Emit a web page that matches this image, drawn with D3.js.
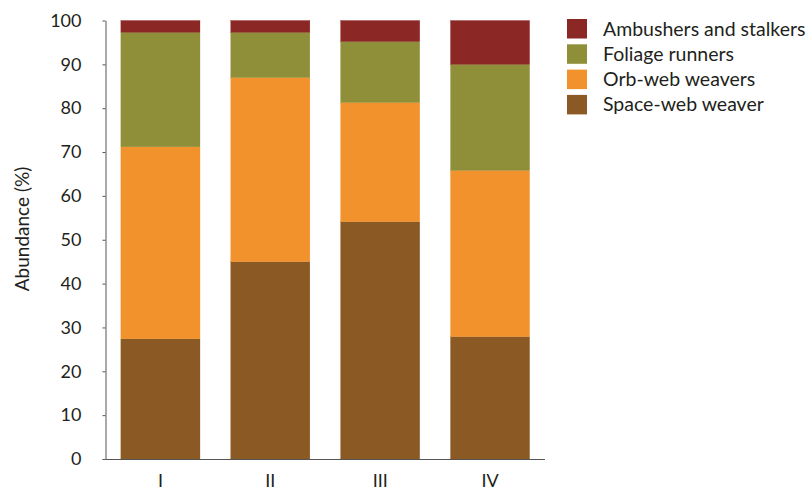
<!DOCTYPE html>
<html>
<head>
<meta charset="utf-8">
<script src="https://cdn.jsdelivr.net/npm/d3@7"></script>
<style>
  html, body { margin: 0; padding: 0; background: #fff; }
  svg { display: block; font-family: Lato, "Open Sans", sans-serif; }
</style>
</head>
<body>
<svg id="chart" width="809" height="490"></svg>
<script>
const categories = ["I", "II", "III", "IV"];
const seriesNames = ["Space-web weaver", "Orb-web weavers", "Foliage runners", "Ambushers and stalkers"];
const spaceWeb = [27.4, 45.0, 54.1, 27.9];
const orbWeb = [43.8, 42.0, 27.2, 37.9];
const foliage = [26.1, 10.3, 13.9, 24.2];
const ambushers = [2.7, 2.7, 4.8, 10.0];
const yTicks = [0, 10, 20, 30, 40, 50, 60, 70, 80, 90, 100];
const colors = ["#8B5A24", "#F2922D", "#8E8F38", "#8B2724"];

const seriesValues = [spaceWeb, orbWeb, foliage, ambushers];
const rows = categories.map((c, i) => {
  const r = { cat: c };
  seriesNames.forEach((s, j) => r[s] = seriesValues[j][i]);
  return r;
});

const svg = d3.select("#chart");
const x = d3.scaleBand().domain(categories).range([105.5, 545]).paddingInner(0.28).paddingOuter(0.14);
const y = d3.scaleLinear().domain([0, 100]).range([459, 20.5]);

const stacked = d3.stack().keys(seriesNames)(rows);

svg.append("g").selectAll("g").data(stacked).join("g")
  .attr("fill", (d, i) => colors[i])
  .attr("stroke", (d, i) => colors[i])
  .attr("stroke-width", 0.3)
  .selectAll("rect").data(d => d).join("rect")
  .attr("x", d => x(d.data.cat))
  .attr("width", x.bandwidth())
  .attr("y", d => y(d[1]))
  .attr("height", d => y(d[0]) - y(d[1]));

// Y axis
const yAxis = svg.append("g").attr("transform", "translate(105.5,0)")
  .call(d3.axisLeft(y).tickValues(yTicks).tickSize(3).tickPadding(21).tickSizeOuter(0));
yAxis.select(".domain").attr("stroke", "#555");
yAxis.selectAll(".tick line").attr("stroke", "#555");
yAxis.selectAll("text").attr("fill", "#231f20").style("font-size", "18px").style("font-family", "Lato, sans-serif");

// X axis
const xAxis = svg.append("g").attr("transform", "translate(0,459)")
  .call(d3.axisBottom(x).tickSize(0).tickPadding(15).tickSizeOuter(0));
xAxis.select(".domain").attr("stroke", "#555").attr("d", "M105.5,0.5H545");
xAxis.selectAll("text").attr("fill", "#231f20").style("font-size", "18px").style("font-family", "Lato, sans-serif");

// Y title
svg.append("text")
  .attr("transform", "translate(29,229) rotate(-90)")
  .attr("text-anchor", "middle")
  .attr("fill", "#231f20")
  .style("font-size", "19px")
  .text("Abundance (%)");

// Legend
const legendOrder = seriesNames.map((s, i) => ({ name: s, color: colors[i] })).reverse();
const lg = svg.append("g").attr("transform", "translate(567,19)");
const item = lg.selectAll("g").data(legendOrder).join("g")
  .attr("transform", (d, i) => `translate(0,${i * 25.3})`);
item.append("rect").attr("width", 20).attr("height", 19.5).attr("fill", d => d.color);
item.append("text").attr("x", 36).attr("y", 16.5).attr("fill", "#231f20")
  .style("font-size", "19.5px").text(d => d.name);
</script>
</body>
</html>
